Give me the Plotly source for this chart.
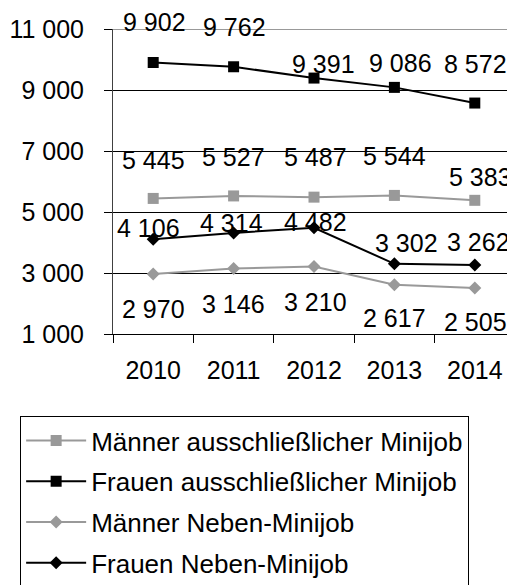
import plotly.graph_objects as go

years = ["2010", "2011", "2012", "2013", "2014"]
maenner_ausschl = [5445, 5527, 5487, 5544, 5383]
frauen_ausschl = [9902, 9762, 9391, 9086, 8572]
maenner_neben = [2970, 3146, 3210, 2617, 2505]
frauen_neben = [4106, 4314, 4482, 3302, 3262]

y_tickvals = [1000, 3000, 5000, 7000, 9000, 11000]
y_ticktext = ["1 000", "3 000", "5 000", "7 000", "9 000", "11 000"]

names = ["Männer ausschließlicher Minijob", "Frauen ausschließlicher Minijob",
         "Männer Neben-Minijob", "Frauen Neben-Minijob"]

FONT = "Liberation Sans, Arial, sans-serif"
GREY = "#999999"

series = [
    dict(name=names[0], y=maenner_ausschl, color=GREY, symbol="square", size=11,
         yshift=[38, 39, 40, 39, 23], xshift=[0, 0, 1, 0, 6]),
    dict(name=names[1], y=frauen_ausschl, color="#000000", symbol="square", size=11,
         yshift=[40, 40, 14, 24, 39], xshift=[1, 1, 9, 6, 1]),
    dict(name=names[2], y=maenner_neben, color=GREY, symbol="diamond", size=10,
         yshift=[-35, -35, -35, -33, -34], xshift=[0, 0, 1, 0, 1]),
    dict(name=names[3], y=frauen_neben, color="#000000", symbol="diamond", size=10,
         yshift=[11, 10, 6, 21, 23], xshift=[-5, -2, 1, 12, 4]),
]

fig = go.Figure()
for i, s in enumerate(series):
    fig.add_trace(go.Scatter(
        x=years, y=s["y"], name=s["name"], mode="lines+markers",
        line=dict(color=s["color"], width=2),
        marker=dict(color=s["color"], symbol=s["symbol"], size=s["size"]),
        legendgroup=f"g{i}",
    ))

for s in series:
    for xi, (yv, dy, dx) in enumerate(zip(s["y"], s["yshift"], s["xshift"])):
        fig.add_annotation(
            x=xi, y=yv, xref="x", yref="y",
            text=f"{yv:,}".replace(",", " "), showarrow=False,
            xshift=dx, yshift=dy, font=dict(family=FONT, size=25, color="black"),
        )

fig.update_layout(
    width=507, height=577,
    margin=dict(l=105, r=0, t=21, b=251, autoexpand=False),
    paper_bgcolor="white", plot_bgcolor="white",
    font=dict(family=FONT, size=25, color="black"),
    showlegend=True,
    legend=dict(
        x=-0.231, y=-0.269, xanchor="left", yanchor="top",
        bordercolor="black", borderwidth=1, bgcolor="white",
        font=dict(family=FONT, size=26, color="black"),
        tracegroupgap=4, itemwidth=60,
    ),
)
fig.add_shape(type="line", xref="paper", yref="y", x0=0, x1=1, y0=11000, y1=11000,
              line=dict(color=GREY, width=2), layer="above")
fig.update_xaxes(
    type="category", range=[-0.5, 4.5],
    showline=True, linecolor="black", linewidth=1,
    ticks="outside", tickson="boundaries", ticklen=8, tickcolor="black",
    showgrid=False, ticklabelstandoff=14,
    tickfont=dict(family=FONT, size=25, color="black"),
)
fig.update_yaxes(
    range=[1000, 11000], tickvals=y_tickvals, ticktext=y_ticktext,
    showline=True, linecolor="#404040", linewidth=1,
    ticks="outside", ticklen=8, tickcolor="black",
    showgrid=True, gridcolor="black", gridwidth=1,
    zeroline=False, ticklabelstandoff=15,
    tickfont=dict(family=FONT, size=25, color="black"),
)

fig.write_html("out.html")
